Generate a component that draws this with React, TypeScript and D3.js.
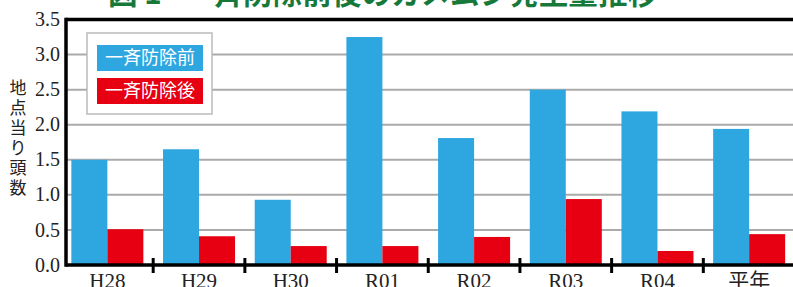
import * as d3 from 'd3';
import React from 'react';

const categories = ['H28', 'H29', 'H30', 'R01', 'R02', 'R03', 'R04', '平年'];
const beforeValues = [1.5, 1.65, 0.93, 3.25, 1.81, 2.5, 2.19, 1.94];
const afterValues = [0.51, 0.41, 0.27, 0.27, 0.4, 0.94, 0.2, 0.44];
const seriesNames = ['一斉防除前', '一斉防除後'];
const seriesColors = ['#2ea6e0', '#e60012'];
const yTicks = [0, 0.5, 1.0, 1.5, 2.0, 2.5, 3.0, 3.5];
const yTitle = '地点当り頭数';

const W = 793, H = 287;
const left = 66, top = 19.5, bottom = 265;

export default function App() {
  const x = d3.scaleBand().domain(categories).range([61.5, 795]);
  const x1 = d3.scaleBand().domain(['0', '1'])
    .range([(x.bandwidth() - 72) / 2, (x.bandwidth() + 72) / 2]);
  const y = d3.scaleLinear().domain([0, 3.5]).range([bottom, top]);

  const serif = '"Liberation Serif", "Times New Roman", serif';
  const cjk = '"Noto Sans CJK JP", sans-serif';

  return (
    <svg width={W} height={H} style={{ position: 'absolute', left: 0, top: 0 }}>
      <rect width={W} height={H} fill="#fff" />

      {/* title, cut off at the top */}
      <text x={108} y={4} fontFamily={cjk} fontWeight="bold" fontSize={29.5} fill="#16793a">図 1</text>
      <text x={184} y={4} fontFamily={cjk} fontWeight="bold" fontSize={29.5} fill="#16793a"
        textLength={473} lengthAdjust="spacing">一斉防除前後のカメムシ発生量推移</text>

      {/* grid */}
      {yTicks.slice(1, -1).map(t => (
        <line key={t} x1={left} x2={W} y1={y(t)} y2={y(t)} stroke="#aaa" strokeWidth={2} />
      ))}

      {/* bars */}
      {categories.map((c, i) => (
        <g key={c} transform={`translate(${x(c)},0)`}>
          {[beforeValues[i], afterValues[i]].map((v, j) => (
            <rect key={j} x={x1(String(j))} y={y(v)} width={x1.bandwidth()}
              height={y(0) - y(v)} fill={seriesColors[j]} />
          ))}
        </g>
      ))}

      {/* frame */}
      <line x1={left} x2={W} y1={top} y2={top} stroke="#000" strokeWidth={3.5} />
      <line x1={left} x2={left} y1={top - 1.75} y2={bottom + 1.75} stroke="#000" strokeWidth={3.5} />
      <line x1={left} x2={W} y1={bottom} y2={bottom} stroke="#000" strokeWidth={3.5} />
      {categories.slice(1).map(c => (
        <line key={c} x1={x(c)} x2={x(c)} y1={bottom - 7} y2={bottom + 8} stroke="#000" strokeWidth={3} />
      ))}

      {/* y ticks */}
      {yTicks.map(t => (
        <text key={t} x={60} y={y(t)} dy="0.33em" textAnchor="end" fontFamily={serif} fontSize={20} fill="#222">
          {t.toFixed(1)}
        </text>
      ))}

      {/* x labels */}
      {categories.map(c => (
        <text key={c} x={x(c)! + x.bandwidth() / 2} y={288} textAnchor="middle"
          fontFamily={c === '平年' ? cjk : serif} fontSize={21} fill="#222">{c}</text>
      ))}

      {/* y title, vertical */}
      {yTitle.split('').map((ch, i) => (
        <text key={i} x={18} y={88 + i * 20} dy="0.35em" textAnchor="middle" fontFamily={cjk}
          fontSize={17} fill="#222">{ch}</text>
      ))}

      {/* legend */}
      <rect x={87} y={33} width={125} height={81} fill="#fff" stroke="#bbb" strokeWidth={1.5} />
      {seriesNames.map((s, i) => (
        <g key={s}>
          <rect x={97} y={45 + i * 33} width={106} height={26} fill={seriesColors[i]} />
          <text x={150} y={58 + i * 33} dy="0.35em" textAnchor="middle" fontFamily={cjk}
            fontSize={18} fill="#fff">{s}</text>
        </g>
      ))}
    </svg>
  );
}
